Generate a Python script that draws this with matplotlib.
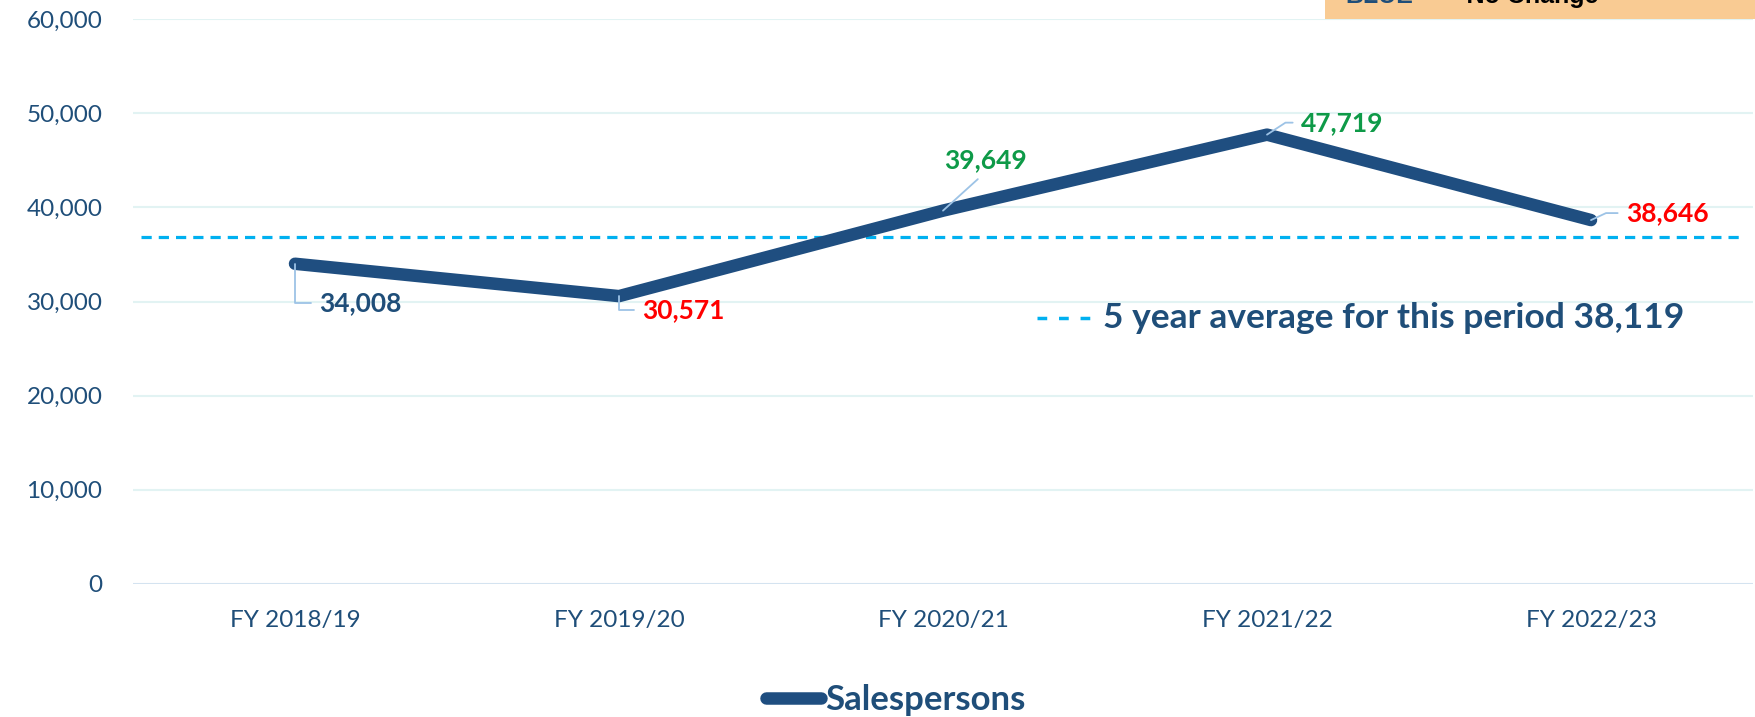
import matplotlib
matplotlib.use("Agg")
import matplotlib.pyplot as plt
from matplotlib.lines import Line2D
from matplotlib.patches import Rectangle

# ---- data ----
categories = ["FY 2018/19", "FY 2019/20", "FY 2020/21", "FY 2021/22", "FY 2022/23"]
salespersons = [34008, 30571, 39649, 47719, 38646]
label_colors = ["#1f4e79", "#ff0000", "#0e9a48", "#0e9a48", "#ff0000"]
avg_line_value = 36850          # where the dashed line is drawn in the picture
avg_label = "5 year average for this period 38,119"
yticks = [0, 10000, 20000, 30000, 40000, 50000, 60000]
series_name = "Salespersons"

W, H = 1756, 717
fig = plt.figure(figsize=(W / 100, H / 100), dpi=100)
fig.patch.set_facecolor("white")

ax = fig.add_axes([133 / W, 133 / H, (1753 - 133) / W, (698 - 133) / H])
ax.set_xlim(-0.5, len(categories) - 0.5)
ax.set_ylim(0, 60000)
for s in ax.spines.values():
    s.set_visible(False)

FONT = "Lato"
DARK = "#1f4e79"

# gridlines
for v in yticks:
    ax.axhline(v, color="#d4e3f0" if v == 0 else "#e2f3f3", lw=1.5, zorder=0)

ax.set_yticks(yticks)
ax.set_yticklabels([f"{v:,}" for v in yticks], fontsize=17.5, color=DARK, family=FONT)
ax.set_xticks(range(len(categories)))
ax.set_xticklabels(categories, fontsize=17.5, color=DARK, family=FONT)
ax.tick_params(axis="both", length=0)
ax.tick_params(axis="y", pad=22)
ax.tick_params(axis="x", pad=19)

# average dashed line
ax.axhline(avg_line_value, xmin=0.005, xmax=0.993, color="#00b0f0", lw=2.3,
           dashes=(3.2, 2.2), zorder=1)

# main line
x = list(range(len(categories)))
ax.plot(x, salespersons, color="#1f4e80", lw=9, solid_capstyle="round",
        solid_joinstyle="round", zorder=3, label=series_name)

# data labels with leader lines
label_specs = [
    # (dx, dy, ha, va, relpos, connectionstyle)
    (24, -39, "left", "center", (0, 0.5), "angle,angleA=0,angleB=90,rad=0"),
    (23, -14, "left", "center", (0, 0.5), "angle,angleA=0,angleB=90,rad=0"),
    (42, 50, "center", "center", (0.5, 0.0), "arc3,rad=0"),
    (34, 12, "left", "center", (0, 0.5), "angle,angleA=0,angleB=33,rad=0"),
    (35, 7, "left", "center", (0, 0.5), "angle,angleA=0,angleB=25,rad=0"),
]
for xi, yi, col, (dx, dy, ha, va, rp, cs) in zip(x, salespersons, label_colors, label_specs):
    ax.annotate(f"{yi:,}", xy=(xi, yi), xytext=(dx, dy), textcoords="offset pixels",
                ha=ha, va=va, fontsize=19, fontweight="bold", color=col, family=FONT,
                zorder=5,
                arrowprops=dict(arrowstyle="-", color="#9dc3e6", lw=1.3,
                                connectionstyle=cs, relpos=rp,
                                shrinkA=4, shrinkB=0))

# average legend-like text
fig.add_artist(Line2D([1037 / W, 1093 / W], [1 - 318 / H, 1 - 318 / H],
                      transform=fig.transFigure, color="#00b0f0", lw=2.5,
                      dashes=(2.8, 3.4)))
fig.text(1103 / W, 1 - 318 / H, avg_label, ha="left", va="center", fontsize=25.5,
         fontweight="bold", color=DARK, family=FONT)

# legend
ax.legend(loc="center", bbox_to_anchor=(0.51, 17 / H), bbox_transform=fig.transFigure,
          frameon=False, handlelength=1.6, handletextpad=0.1,
          prop=dict(family=FONT, weight="bold", size=25), labelcolor=DARK)

# cut-off orange key box at top right
fig.add_artist(Rectangle((1325 / W, 1 - 19 / H), (W - 1325) / W, 19 / H,
                         transform=fig.transFigure, facecolor="#f9cb93",
                         edgecolor="none", zorder=0))
fig.text(1345 / W, 1 - 3 / H, "BLUE", ha="left", va="baseline", fontsize=18,
         fontweight="bold", color=DARK, family="Liberation Sans")
fig.text(1445 / W, 1 - 3 / H, "= No Change", ha="left", va="baseline", fontsize=18,
         fontweight="bold", color="black", family="Liberation Sans")

fig.savefig("out.png", dpi=100)
